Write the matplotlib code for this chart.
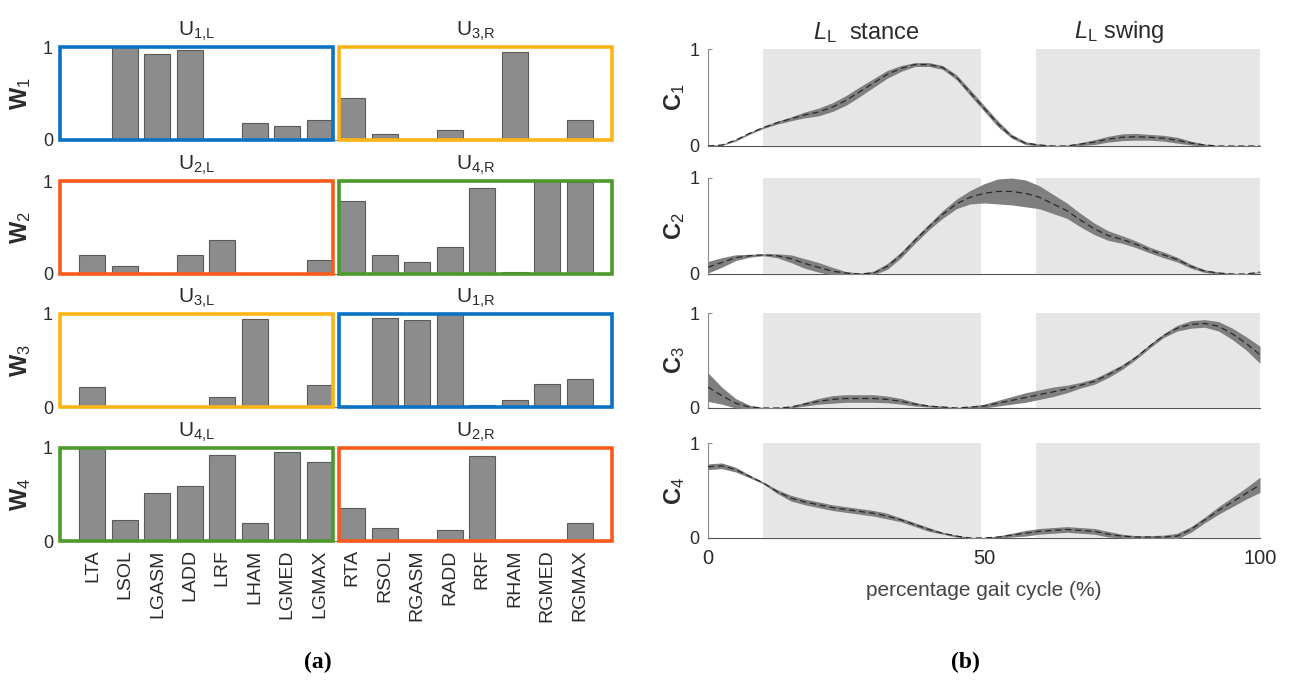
import numpy as np
import matplotlib
matplotlib.use('Agg')
import matplotlib.pyplot as plt
from matplotlib.patches import Rectangle

plt.rcParams['font.family'] = ['Liberation Sans', 'DejaVu Sans']
plt.rcParams['mathtext.fontset'] = 'custom'
plt.rcParams['mathtext.rm'] = 'Liberation Sans'
plt.rcParams['mathtext.it'] = 'Liberation Sans:italic'
plt.rcParams['mathtext.bf'] = 'Liberation Sans:bold'

# ---- data: muscle weights (panel a) ----
muscles = ['LTA', 'LSOL', 'LGASM', 'LADD', 'LRF', 'LHAM', 'LGMED', 'LGMAX',
           'RTA', 'RSOL', 'RGASM', 'RADD', 'RRF', 'RHAM', 'RGMED', 'RGMAX']
W1 = [0.0, 1.0, 0.93, 0.97, 0.0, 0.18, 0.15, 0.21,
      0.45, 0.06, 0.0, 0.11, 0.0, 0.95, 0.0, 0.21]
W2 = [0.20, 0.09, 0.0, 0.20, 0.37, 0.0, 0.0, 0.15,
      0.79, 0.20, 0.13, 0.29, 0.92, 0.02, 1.0, 0.99]
W3 = [0.21, 0.0, 0.0, 0.0, 0.11, 0.95, 0.0, 0.24,
      0.0, 0.96, 0.94, 1.0, 0.02, 0.075, 0.25, 0.30]
W4 = [1.0, 0.23, 0.52, 0.59, 0.92, 0.19, 0.96, 0.85,
      0.36, 0.14, 0.0, 0.12, 0.91, 0.0, 0.0, 0.19]
left_titles = [('1', 'L'), ('2', 'L'), ('3', 'L'), ('4', 'L')]
right_titles = [('3', 'R'), ('4', 'R'), ('1', 'R'), ('2', 'R')]

# ---- data: activation profiles (panel b) ----
gait = [0, 2.5, 5, 7.5, 10, 12.5, 15, 17.5, 20, 22.5, 25, 27.5, 30, 32.5, 35, 37.5, 40,
        42.5, 45, 47.5, 50, 52.5, 55, 57.5, 60, 62.5, 65, 67.5, 70, 72.5, 75, 77.5, 80,
        82.5, 85, 87.5, 90, 92.5, 95, 97.5, 100]
C1 = [0.0, 0.01, 0.06, 0.13, 0.19, 0.24, 0.28, 0.32, 0.35, 0.40, 0.47, 0.56, 0.65, 0.74,
      0.80, 0.84, 0.84, 0.81, 0.71, 0.55, 0.39, 0.23, 0.10, 0.03, 0.01, 0.0, 0.0, 0.02,
      0.04, 0.07, 0.09, 0.095, 0.09, 0.08, 0.06, 0.03, 0.01, 0.0, 0.0, 0.0, 0.0]
C1_sd = [0.005, 0.005, 0.01, 0.01, 0.01, 0.015, 0.02, 0.03, 0.04, 0.045, 0.05, 0.05, 0.045,
         0.04, 0.03, 0.02, 0.02, 0.02, 0.025, 0.03, 0.03, 0.03, 0.02, 0.015, 0.01, 0.005,
         0.01, 0.015, 0.025, 0.03, 0.035, 0.035, 0.03, 0.03, 0.03, 0.02, 0.01, 0.005,
         0.003, 0.003, 0.003]
C2 = [0.07, 0.12, 0.17, 0.19, 0.20, 0.19, 0.16, 0.11, 0.07, 0.03, 0.01, 0.0, 0.01, 0.08,
      0.20, 0.35, 0.49, 0.62, 0.73, 0.80, 0.84, 0.86, 0.86, 0.84, 0.80, 0.73, 0.66, 0.56,
      0.47, 0.40, 0.36, 0.31, 0.25, 0.20, 0.15, 0.08, 0.03, 0.01, 0.0, 0.0, 0.02]
C2_sd = [0.06, 0.05, 0.03, 0.015, 0.01, 0.02, 0.04, 0.05, 0.05, 0.04, 0.015, 0.01, 0.02,
         0.03, 0.03, 0.03, 0.03, 0.04, 0.05, 0.07, 0.10, 0.13, 0.14, 0.14, 0.12, 0.10,
         0.08, 0.07, 0.06, 0.05, 0.04, 0.035, 0.03, 0.03, 0.025, 0.02, 0.015, 0.01,
         0.005, 0.005, 0.005]
C3 = [0.22, 0.13, 0.05, 0.01, 0.0, 0.0, 0.01, 0.04, 0.07, 0.09, 0.10, 0.10, 0.10, 0.09,
      0.07, 0.04, 0.02, 0.01, 0.0, 0.01, 0.02, 0.05, 0.08, 0.11, 0.14, 0.17, 0.20, 0.24,
      0.28, 0.35, 0.43, 0.53, 0.65, 0.76, 0.84, 0.88, 0.89, 0.86, 0.78, 0.68, 0.56]
C3_sd = [0.15, 0.09, 0.05, 0.02, 0.005, 0.005, 0.01, 0.02, 0.03, 0.04, 0.04, 0.04, 0.04,
         0.035, 0.03, 0.02, 0.01, 0.01, 0.005, 0.01, 0.02, 0.03, 0.04, 0.05, 0.05, 0.05,
         0.04, 0.03, 0.03, 0.03, 0.025, 0.02, 0.02, 0.02, 0.03, 0.04, 0.04, 0.05, 0.06,
         0.07, 0.09]
C4 = [0.75, 0.76, 0.72, 0.65, 0.58, 0.49, 0.42, 0.38, 0.35, 0.32, 0.30, 0.28, 0.26, 0.23,
      0.19, 0.14, 0.09, 0.05, 0.02, 0.0, 0.0, 0.01, 0.03, 0.05, 0.07, 0.08, 0.09, 0.08,
      0.07, 0.04, 0.02, 0.01, 0.01, 0.01, 0.02, 0.09, 0.19, 0.29, 0.38, 0.47, 0.56]
C4_sd = [0.03, 0.03, 0.025, 0.015, 0.01, 0.02, 0.03, 0.03, 0.03, 0.03, 0.03, 0.03, 0.03,
         0.03, 0.02, 0.02, 0.02, 0.01, 0.01, 0.005, 0.005, 0.01, 0.02, 0.03, 0.03, 0.03,
         0.03, 0.03, 0.03, 0.03, 0.02, 0.015, 0.015, 0.02, 0.03, 0.03, 0.03, 0.04, 0.05,
         0.06, 0.08]

W_all = [W1, W2, W3, W4]
C_all = [(C1, C1_sd), (C2, C2_sd), (C3, C3_sd), (C4, C4_sd)]

blue = '#0A72C4'
yellow = '#FDB515'
red = '#FA5A1A'
green = '#4C9A2A'
left_colors = [blue, red, yellow, green]
right_colors = [yellow, green, blue, red]

W, H = 1290, 681
fig = plt.figure(figsize=(W / 100, H / 100), dpi=100)

def box(px_l, px_t, px_r, px_b):
    return fig.add_axes([px_l / W, 1 - px_b / H, (px_r - px_l) / W, (px_b - px_t) / H])

def u_label(num, side):
    # braces keep mathtext from adding a space after the comma
    return r'$\mathrm{U}_{\mathrm{%s}{,}\mathrm{%s}}$' % (num, side)

txtc = '#2b2b2b'

# ---------- panel (a) ----------
rows_a = [(47, 140), (181, 274), (314, 407), (448, 541)]
xpos = np.arange(1, 17)
for i, (t, b) in enumerate(rows_a):
    ax = box(60, t, 612, b)
    ax.bar(xpos, W_all[i], width=0.8, color='#8c8c8c', edgecolor='#5a5a5a', linewidth=0.8,
           zorder=2)
    ax.set_xlim(0, 17)
    ax.set_ylim(0, 1)
    for s in ['top', 'right', 'left']:
        ax.spines[s].set_visible(False)
    ax.spines['bottom'].set_color('#777777')
    ax.add_patch(Rectangle((0, 0), 8.4, 1, fill=False, edgecolor=left_colors[i],
                           linewidth=2.6, clip_on=False, zorder=3))
    ax.add_patch(Rectangle((8.6, 0), 8.4, 1, fill=False, edgecolor=right_colors[i],
                           linewidth=2.6, clip_on=False, zorder=3))
    ax.set_yticks([0, 1])
    ax.set_yticklabels(['0', '1'], fontsize=13, color=txtc)
    ax.tick_params(axis='y', length=0, pad=5)
    ax.set_ylabel(r'$\mathbf{W}_{%d}$' % (i + 1), fontsize=17, color=txtc, labelpad=7)
    ax.text(4.2, 1.04, u_label(*left_titles[i]), ha='center', va='bottom', fontsize=15,
            color=txtc)
    ax.text(12.8, 1.04, u_label(*right_titles[i]), ha='center', va='bottom', fontsize=15,
            color=txtc)
    if i == 3:
        ax.set_xticks(xpos)
        ax.set_xticklabels(muscles, rotation=90, fontsize=14, color=txtc)
        ax.tick_params(axis='x', length=0, pad=6)
    else:
        ax.set_xticks([])

# ---------- panel (b) ----------
rows_b = [(49, 146), (178, 274), (313, 408), (443, 538)]
for i, (t, b) in enumerate(rows_b):
    ax = box(708, t, 1260, b)
    mean, sd = C_all[i]
    mean = np.array(mean)
    sd = np.array(sd)
    ax.axvspan(10, 49.5, color='#e6e6e6', lw=0, zorder=3)
    ax.axvspan(59.5, 100, color='#e6e6e6', lw=0, zorder=3)
    ax.fill_between(gait, mean - sd, mean + sd, color='#7f7f7f', lw=0, zorder=4)
    ax.plot(gait, mean, color='#2a2a2a', lw=0.9, ls=(0, (5, 3)), zorder=5)
    ax.set_xlim(0, 100)
    ax.set_ylim(0, 1)
    for s in ['top', 'right']:
        ax.spines[s].set_visible(False)
    ax.spines['left'].set_color('#8a8a8a')
    ax.spines['bottom'].set_color('#555555')
    ax.set_yticks([0, 1])
    ax.set_yticklabels(['0', '1'], fontsize=13, color=txtc)
    ax.tick_params(axis='y', direction='in', length=3, color='#8a8a8a', pad=6)
    ax.set_ylabel(r'$\mathbf{C}_{%d}$' % (i + 1), fontsize=17, color=txtc, labelpad=2)
    if i == 3:
        ax.set_xticks([0, 50, 100])
        ax.set_xticklabels(['0', '50', '100'], fontsize=14.5, color=txtc)
        ax.tick_params(axis='x', length=0, pad=8)
        ax.set_xlabel('percentage gait cycle (%)', fontsize=15, color='#444444',
                      labelpad=9)
    else:
        ax.set_xticks([])
    if i == 0:
        ax.text(28.6, 1.04, r'$\mathit{L}_{\mathrm{L}}$  stance', ha='center', va='bottom',
                fontsize=17, color=txtc)
        ax.text(74.5, 1.04, r'$\mathit{L}_{\mathrm{L}}$ swing', ha='center', va='bottom',
                fontsize=17, color=txtc)

fig.text(318 / W, 1 - 662 / H, '(a)', ha='center', va='center', fontsize=17,
         fontweight='bold', family=['Liberation Serif', 'DejaVu Serif'])
fig.text(965 / W, 1 - 662 / H, '(b)', ha='center', va='center', fontsize=17,
         fontweight='bold', family=['Liberation Serif', 'DejaVu Serif'])

fig.savefig('out.png', dpi=100)
